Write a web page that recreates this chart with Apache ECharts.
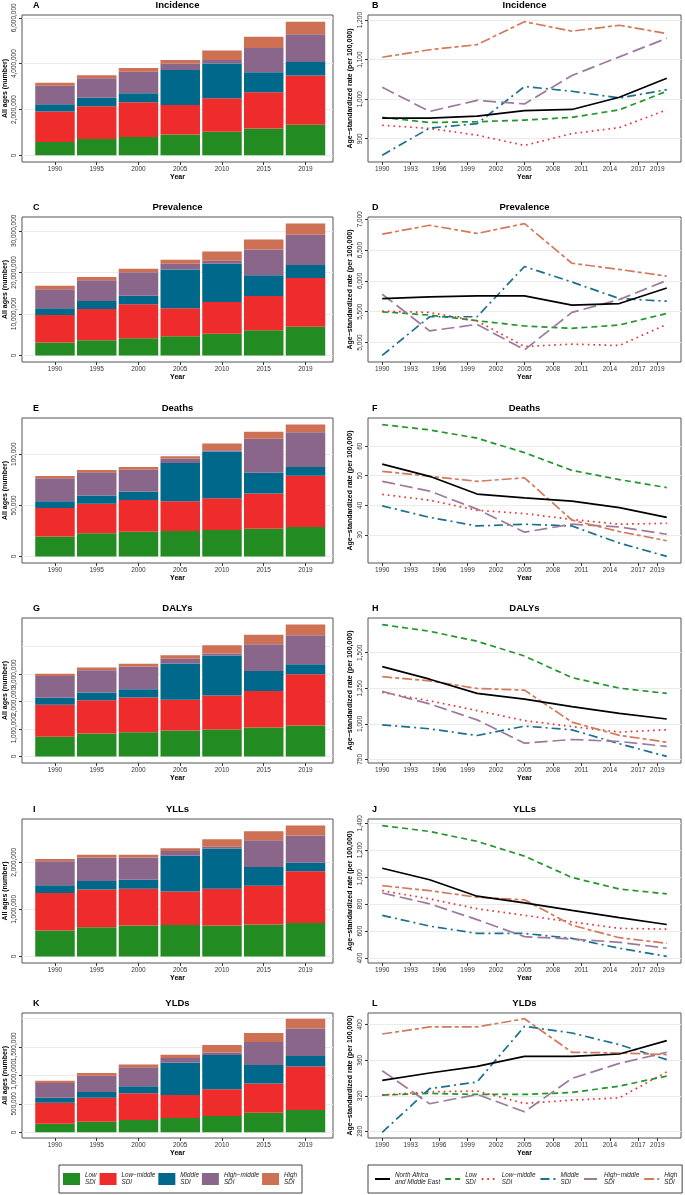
<!DOCTYPE html>
<html><head><meta charset="utf-8">
<script src="https://cdn.jsdelivr.net/npm/echarts@6/dist/echarts.min.js"></script>
<style>html,body{margin:0;padding:0;background:#fff}#c{width:685px;height:1195px}</style>
</head><body><div id="c"></div>
<script>
// ---------------- DATA ----------------
const barYears = ['1990','1995','2000','2005','2010','2015','2019'];
const rateYears = [1990,1995,2000,2005,2010,2015,2020];
const rateTicks = [1990,1993,1996,1999,2002,2005,2008,2011,2014,2017,2019];
const sdiGroups = ['Low SDI','Low−middle SDI','Middle SDI','High−middle SDI','High SDI'];
const rateGroups = ['North Africa and Middle East','Low SDI','Low−middle SDI','Middle SDI','High−middle SDI','High SDI'];
const measures = ['Incidence','Prevalence','Deaths','DALYs','YLLs','YLDs'];
const panelLetters = ['A','B','C','D','E','F','G','H','I','J','K','L'];

// counts (all ages), one row per SDI group: Low, Low-middle, Middle, High-middle, High
const countIncidence = [
  [580000, 710000, 800000, 910000, 1030000, 1170000, 1330000],
  [1330000,1430000,1520000,1290000,1460000,1580000,2150000],
  [320000, 370000, 390000, 1520000,1520000,870000, 590000],
  [810000, 850000, 940000, 290000, 150000, 1060000,1210000],
  [130000, 130000, 160000, 150000, 410000, 490000, 550000]
];
const countPrevalence = [
  [3100000, 3650000, 4130000, 4600000, 5240000, 6030000, 6900000],
  [6660000, 7540000, 8170000, 6750000, 7620000, 8260000, 11750000],
  [1590000, 1910000, 2070000, 9360000, 9200000, 5000000, 3100000],
  [4600000, 5000000, 5630000, 1350000, 720000, 6190000, 7300000],
  [800000, 790000, 870000, 960000, 2220000, 2460000, 2700000]
];
const countDeaths = [
  [19400, 22600, 24200, 24800, 25800, 27100, 28700],
  [28000, 29000, 31000, 29100, 31000, 34500, 50300],
  [6500, 8100, 8300, 37400, 45800, 20300, 8400],
  [22600, 22600, 21300, 4500, 1300, 33300, 34200],
  [2200, 2200, 2600, 2300, 6700, 6700, 7400]
];
const countDALYs = [
  [710000, 830000, 880000, 940000, 980000, 1050000, 1120000],
  [1170000,1210000,1260000,1120000,1230000,1330000,1870000],
  [250000, 280000, 300000, 1320000,1460000,720000, 360000],
  [790000, 810000, 830000, 170000, 70000, 980000, 1050000],
  [80000, 100000, 100000, 130000, 300000, 340000, 390000]
];
const countYLLs = [
  [550000, 620000, 660000, 670000, 660000, 680000, 710000],
  [800000, 800000, 780000, 710000, 780000, 820000, 1100000],
  [160000, 180000, 190000, 760000, 850000, 400000, 180000],
  [510000, 500000, 470000, 100000, 40000, 570000, 580000],
  [50000, 60000, 60000, 60000, 160000, 190000, 210000]
];
const countYLDs = [
  [151000, 186000, 215000, 250000, 285000, 343000, 390000],
  [366000, 419000, 471000, 407000, 471000, 512000, 767000],
  [88000, 104000, 122000, 570000, 599000, 325000, 180000],
  [261000, 285000, 332000, 75000, 45000, 407000, 483000],
  [41000, 47000, 50000, 58000, 130000, 157000, 174000]
];
const countTicksIncidence = [0, 2000000, 4000000, 6000000];
const countTicksPrevalence = [0, 10000000, 20000000, 30000000];
const countTicksDeaths = [0, 50000, 100000];
const countTicksDALYs = [0, 1000000, 2000000, 3000000, 4000000];
const countTicksYLLs = [0, 1000000, 2000000];
const countTicksYLDs = [0, 500000, 1000000, 1500000, 2000000];

// age-standardized rates (per 100,000): NAME, Low, Low-middle, Middle, High-middle, High
const rateIncidence = [
  [952, 952, 957, 971, 974, 1005, 1053],
  [954, 941, 943, 947, 954, 973, 1020],
  [934, 926, 909, 883, 913, 928, 973],
  [858, 927, 938, 1032, 1020, 1003, 1024],
  [1030, 969, 997, 988, 1060, 1107, 1154],
  [1106, 1125, 1138, 1196, 1172, 1187, 1166]
];
const ratePrevalence = [
  [5713, 5740, 5756, 5756, 5606, 5632, 5884],
  [5498, 5445, 5354, 5268, 5230, 5284, 5472],
  [5509, 5488, 5349, 4936, 4973, 4952, 5295],
  [4791, 5418, 5418, 6233, 5981, 5713, 5670],
  [5783, 5188, 5295, 4882, 5488, 5697, 6008],
  [6758, 6902, 6769, 6929, 6286, 6185, 6077]
];
const rateDeaths = [
  [53.9, 49.8, 43.8, 42.5, 41.4, 39.2, 35.9],
  [67.3, 65.5, 62.7, 57.8, 51.8, 48.7, 46.0],
  [43.7, 41.7, 38.3, 37.2, 35.2, 33.6, 33.9],
  [39.8, 35.9, 33.0, 33.6, 33.0, 27.2, 22.7],
  [48.1, 44.8, 38.7, 30.9, 33.6, 32.7, 30.2],
  [51.5, 49.8, 48.1, 49.3, 35.0, 31.1, 28.0]
];
const rateDALYs = [
  [1402, 1314, 1214, 1174, 1121, 1074, 1034],
  [1698, 1651, 1581, 1477, 1325, 1251, 1214],
  [1221, 1162, 1093, 1023, 981, 942, 958],
  [993, 965, 918, 984, 958, 860, 771],
  [1228, 1140, 1028, 864, 890, 876, 841],
  [1332, 1302, 1249, 1237, 1012, 919, 871]
];
const rateYLLs = [
  [1066, 981, 859, 810, 754, 700, 649],
  [1383, 1339, 1266, 1156, 998, 912, 876],
  [900, 839, 766, 717, 668, 620, 615],
  [717, 637, 583, 583, 546, 473, 412],
  [883, 802, 685, 559, 541, 517, 473],
  [937, 900, 851, 832, 644, 551, 510]
];
const rateYLDs = [
  [337.4, 345.6, 353.1, 364.4, 364.4, 367.0, 382.0],
  [320.8, 322.6, 321.5, 321.5, 323.7, 330.9, 342.2],
  [320.8, 324.5, 325.3, 311.4, 315.1, 317.7, 346.9],
  [278.9, 328.0, 335.5, 398.1, 390.6, 377.5, 360.6],
  [348.2, 311.0, 321.5, 302.0, 339.5, 356.4, 368.9],
  [389.5, 397.4, 397.4, 406.7, 368.9, 368.1, 366.3]
];
const rateTicksIncidence = [900, 1000, 1100, 1200];
const rateTicksPrevalence = [5000, 5500, 6000, 6500, 7000];
const rateTicksDeaths = [30, 40, 50, 60];
const rateTicksDALYs = [750, 1000, 1250, 1500];
const rateTicksYLLs = [400, 600, 800, 1000, 1200, 1400];
const rateTicksYLDs = [280, 320, 360, 400];

// ---------------- STYLE / LAYOUT ----------------
const countSets = [countIncidence, countPrevalence, countDeaths, countDALYs, countYLLs, countYLDs];
const countTickSets = [countTicksIncidence, countTicksPrevalence, countTicksDeaths, countTicksDALYs, countTicksYLLs, countTicksYLDs];
const rateSets = [rateIncidence, ratePrevalence, rateDeaths, rateDALYs, rateYLLs, rateYLDs];
const rateTickSets = [rateTicksIncidence, rateTicksPrevalence, rateTicksDeaths, rateTicksDALYs, rateTicksYLLs, rateTicksYLDs];

const FONT = '"Liberation Sans", Arial, Helvetica, sans-serif';
const barColors = ['#228B22', '#EE2C2C', '#00688B', '#8B668B', '#CD7054'];
const lineColors = ['#000000', '#23962B', '#EE2C2C', '#19708F', '#9C7A9C', '#D47A5C'];
const lineTypes = ['solid', [6, 4], [1.6, 4], [9, 4, 2, 4], [13, 5], [10, 3, 4, 3]];
const rowTop = [15, 217, 418, 618, 819, 1013];
const rowBottom = [162, 362, 563, 763, 963, 1138];
const LEFT = {x: 22, w: 311}, RIGHT = {x: 368, w: 313};

const fmt = v => Math.round(v).toString().replace(/\B(?=(\d{3})+(?!\d))/g, ',');
const tickLabel = {color: '#333', fontFamily: FONT, fontSize: 6.5, hideOverlap: false};
const nameStyle = {color: '#000', fontFamily: FONT, fontSize: 7, fontWeight: 'bold'};

const grid = [], xAxis = [], yAxis = [], series = [], graphic = [];

for (let r = 0; r < 6; r++) {
  const top = rowTop[r], h = rowBottom[r] - rowTop[r];
  const gcommon = {top, height: h, show: true, borderColor: '#555', borderWidth: 1, backgroundColor: '#fff', containLabel: false, outerBoundsMode: 'none'};
  grid.push(Object.assign({left: LEFT.x, width: LEFT.w}, gcommon));
  grid.push(Object.assign({left: RIGHT.x, width: RIGHT.w}, gcommon));
  const gb = 2 * r, gl = 2 * r + 1;

  // ---- bar panel ----
  const sets = countSets[r];
  const totals = barYears.map((_, i) => sets.reduce((s, a) => s + a[i], 0));
  const tmax = Math.max(...totals);
  const idx = barYears.map((_, i) => i);
  xAxis.push({
    gridIndex: gb, type: 'value', min: -0.79, max: 6.659,
    name: 'Year', nameLocation: 'middle', nameGap: 11.5, nameTextStyle: nameStyle,
    axisLine: {show: false, onZero: false}, splitLine: {show: false},
    axisTick: {show: true, length: 3, customValues: idx, lineStyle: {color: '#333', width: 1}},
    axisLabel: Object.assign({customValues: idx, margin: 4, formatter: v => barYears[Math.round(v)]}, tickLabel)
  });
  yAxis.push({
    gridIndex: gb, type: 'value', min: -0.05 * tmax, max: 1.05 * tmax,
    name: 'All ages (number)', nameLocation: 'middle', nameRotate: 90, nameGap: 13.5, nameTextStyle: nameStyle,
    axisLine: {show: false, onZero: false},
    splitLine: {show: true, lineStyle: {color: '#EBEBEB', width: 1}},
    axisTick: {show: true, length: 3, customValues: countTickSets[r], lineStyle: {color: '#333', width: 1}},
    axisLabel: Object.assign({customValues: countTickSets[r], rotate: 90, margin: 4, formatter: fmt}, tickLabel)
  });
  sets.forEach((vals, g) => {
    series.push({
      type: 'bar', name: sdiGroups[g], xAxisIndex: gb, yAxisIndex: gb, stack: 'counts' + r,
      dimensions: ['count', 'pos'], encode: {x: 'pos', y: 'count'},
      barWidth: 39.5, itemStyle: {color: barColors[g]}, silent: true, animation: false,
      data: vals.map((v, i) => [v, i])
    });
  });

  // ---- line panel ----
  const rs = rateSets[r];
  const all = rs.flat();
  const lo = Math.min(...all), hi = Math.max(...all), pad = 0.05 * (hi - lo);
  xAxis.push({
    gridIndex: gl, type: 'value', min: 1988.5, max: 2021.5,
    name: 'Year', nameLocation: 'middle', nameGap: 11.5, nameTextStyle: nameStyle,
    axisLine: {show: false, onZero: false}, splitLine: {show: false},
    axisTick: {show: true, length: 3, customValues: rateTicks, lineStyle: {color: '#333', width: 1}},
    axisLabel: Object.assign({customValues: rateTicks, margin: 4, formatter: v => String(v)}, tickLabel)
  });
  yAxis.push({
    gridIndex: gl, type: 'value', min: lo - pad, max: hi + pad,
    name: 'Age−standardized rate (per 100,000)', nameLocation: 'middle', nameRotate: 90, nameGap: 14.5, nameTextStyle: nameStyle,
    axisLine: {show: false, onZero: false},
    splitLine: {show: true, lineStyle: {color: '#EBEBEB', width: 1}},
    axisTick: {show: true, length: 3, customValues: rateTickSets[r], lineStyle: {color: '#333', width: 1}},
    axisLabel: Object.assign({customValues: rateTickSets[r], rotate: 90, margin: 4, formatter: fmt}, tickLabel)
  });
  rs.forEach((vals, g) => {
    series.push({
      type: 'line', name: 'rate:' + rateGroups[g], xAxisIndex: gl, yAxisIndex: gl,
      symbol: 'none', silent: true, animation: false, z: 3 + (g === 0 ? 1 : 0),
      lineStyle: {color: lineColors[g], width: 1.7, type: lineTypes[g]},
      itemStyle: {color: lineColors[g]},
      data: vals.map((v, i) => [rateYears[i], v])
    });
  });

  // ---- titles ----
  const ty = top - 9.5;
  const tfont = 'bold 9.5px ' + FONT;
  graphic.push({type: 'text', x: LEFT.x + LEFT.w / 2, y: ty, style: {text: measures[r], font: tfont, fill: '#000', textAlign: 'center', textVerticalAlign: 'middle'}});
  graphic.push({type: 'text', x: RIGHT.x + RIGHT.w / 2, y: ty, style: {text: measures[r], font: tfont, fill: '#000', textAlign: 'center', textVerticalAlign: 'middle'}});
  graphic.push({type: 'text', x: 33, y: ty, style: {text: panelLetters[2 * r], font: 'bold 9px ' + FONT, fill: '#000', textAlign: 'left', textVerticalAlign: 'middle'}});
  graphic.push({type: 'text', x: 372, y: ty, style: {text: panelLetters[2 * r + 1], font: 'bold 9px ' + FONT, fill: '#000', textAlign: 'left', textVerticalAlign: 'middle'}});
}

const legendText = {fontFamily: FONT, fontSize: 6.3, fontStyle: 'italic', color: '#222', lineHeight: 7};
const legend = [
  {
    data: sdiGroups, left: 59, top: 1165, orient: 'horizontal', icon: 'rect',
    itemWidth: 17, itemHeight: 12, itemGap: 3, padding: [7, 5, 7, 4],
    borderColor: '#444', borderWidth: 1, selectedMode: false,
    formatter: n => n.replace(' SDI', '\nSDI'), textStyle: legendText
  },
  {
    data: rateGroups.map(n => 'rate:' + n), left: 368, top: 1165, width: 330, orient: 'horizontal',
    itemWidth: 15, itemHeight: 10, itemGap: 4, padding: [7, 5, 7, 6],
    borderColor: '#444', borderWidth: 1, selectedMode: false,
    itemStyle: {opacity: 0, borderWidth: 0},
    lineStyle: {opacity: 1},
    formatter: n => n.slice(5).replace(' and ', '\nand ').replace(' SDI', '\nSDI'), textStyle: legendText
  }
];

const chart = echarts.init(document.getElementById('c'), null, {renderer: 'canvas', width: 685, height: 1195});
chart.setOption({
  animation: false, backgroundColor: '#fff',
  textStyle: {fontFamily: FONT},
  grid, xAxis, yAxis, series, legend, graphic
});
</script></body></html>
